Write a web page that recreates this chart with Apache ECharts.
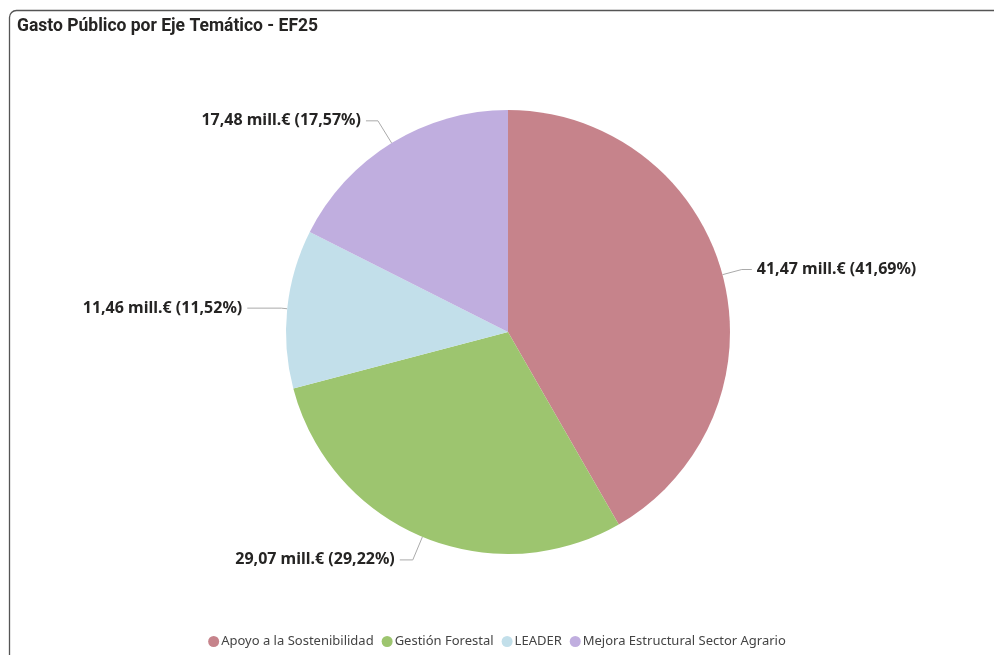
<!DOCTYPE html>
<html>
<head>
<meta charset="utf-8">
<script src="https://cdn.jsdelivr.net/npm/echarts@6/dist/echarts.min.js"></script>
<style>
html,body{margin:0;padding:0;background:#fff;}
#chart{width:994px;height:655px;}
</style>
</head>
<body>
<div id="chart"></div>
<script>
var titleText = 'Gasto Público por Eje Temático - EF25';
var categories = ['Apoyo a la Sostenibilidad', 'Gestión Forestal', 'LEADER', 'Mejora Estructural Sector Agrario'];
var values = [41.47, 29.07, 11.46, 17.48];
var colors = ['#C6838B', '#9DC56F', '#C2DFEA', '#C0AEDF'];
var lineLen = [20, 25, 6, 26];
var lineLen2 = [10, 13, 34, 12];

var chart = echarts.init(document.getElementById('chart'), null, {renderer: 'canvas'});
function fmt(n) { return n.toFixed(2).replace('.', ','); }
var data = categories.map(function (c, i) {
  return {
    name: c, value: values[i], itemStyle: { color: colors[i] },
    labelLine: { length: lineLen[i], length2: lineLen2[i] }
  };
});
chart.setOption({
  animation: false,
  graphic: [{
    type: 'rect',
    shape: { x: 9.5, y: 10.5, width: 1000, height: 700, r: 7 },
    style: { fill: 'none', stroke: '#555', lineWidth: 1.3 },
    silent: true
  }],
  title: {
    text: titleText,
    left: 12, top: 13,
    textStyle: { fontFamily: 'Roboto', fontWeight: 'bold', fontSize: 17.5, color: '#252423' }
  },
  legend: {
    data: categories,
    bottom: 2,
    left: 'center',
    icon: 'circle',
    itemWidth: 11, itemHeight: 11, itemGap: 8,
    textStyle: { fontFamily: 'Noto Sans', fontSize: 13, color: '#444', padding: [0, 0, 0, -3] }
  },
  series: [{
    type: 'pie',
    center: [508, 332],
    radius: 222,
    startAngle: 90,
    clockwise: true,
    data: data,
    percentPrecision: 2,
    label: {
      show: true,
      position: 'outside',
      formatter: function (p) { return fmt(p.value) + ' mill.€ (' + fmt(p.percent) + '%)'; },
      fontFamily: 'Noto Sans', fontWeight: 'bold', fontSize: 16, color: '#252423',
      distanceToLabelLine: 5
    },
    labelLine: { show: true, lineStyle: { color: '#aaa', width: 1 } },
    itemStyle: { borderWidth: 0 },
    emphasis: { disabled: true }
  }]
});
</script>
</body>
</html>
